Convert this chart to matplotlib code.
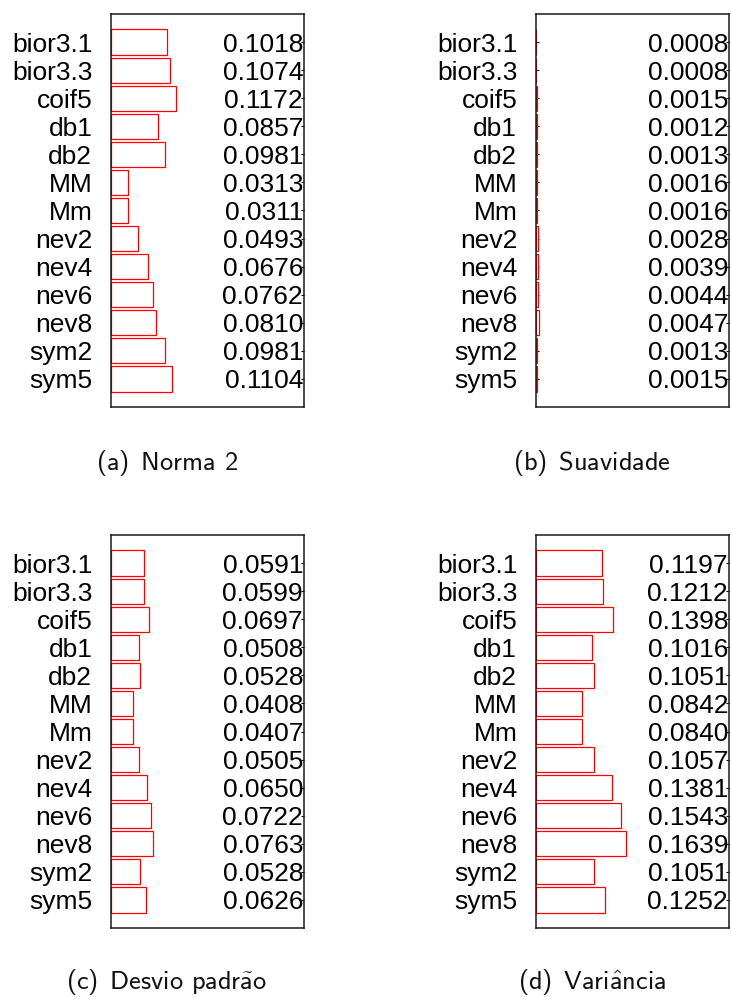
import matplotlib
matplotlib.use("Agg")
import matplotlib.pyplot as plt

plt.rcParams["mathtext.fontset"] = "cm"

# Wavelet filters compared in every panel
filters = ["bior3.1", "bior3.3", "coif5", "db1", "db2", "MM", "Mm",
           "nev2", "nev4", "nev6", "nev8", "sym2", "sym5"]

norma2 = [0.1018, 0.1074, 0.1172, 0.0857, 0.0981, 0.0313, 0.0311,
          0.0493, 0.0676, 0.0762, 0.0810, 0.0981, 0.1104]
suavidade = [0.0008, 0.0008, 0.0015, 0.0012, 0.0013, 0.0016, 0.0016,
             0.0028, 0.0039, 0.0044, 0.0047, 0.0013, 0.0015]
desvio = [0.0591, 0.0599, 0.0697, 0.0508, 0.0528, 0.0408, 0.0407,
          0.0505, 0.0650, 0.0722, 0.0763, 0.0528, 0.0626]
variancia = [0.1197, 0.1212, 0.1398, 0.1016, 0.1051, 0.0842, 0.0840,
             0.1057, 0.1381, 0.1543, 0.1639, 0.1051, 0.1252]

# sans-serif captions; the accented vowels are built with math accents
captions = [r"(a)$\enspace$Norma 2",
            r"(b)$\enspace$Suavidade",
            r"(c)$\enspace$Desvio padr$\mathsf{\tilde{a}}$o",
            r"(d)$\enspace$Vari$\mathsf{\hat{a}}$ncia"]

W, H = 731, 997
fig = plt.figure(figsize=(W / 100, H / 100), dpi=100)

# axes boxes in pixels: left, top, right, bottom
boxes = [(111, 14, 304, 407), (536, 14, 729, 407),
         (111, 535, 304, 928), (536, 535, 729, 928)]
caption_xy = [(167, 463), (592, 463), (167, 982), (592, 982)]
panels = [norma2, suavidade, desvio, variancia]

label_font = "Liberation Sans"

for vals, (l, t, r, b), cap, (cx, cy) in zip(panels, boxes, captions, caption_xy):
    ax = fig.add_axes([l / W, 1 - b / H, (r - l) / W, (b - t) / H])
    pos = list(range(1, len(filters) + 1))
    ax.barh(pos, vals, height=0.9, left=0, facecolor="white",
            edgecolor="red", linewidth=0.9, zorder=2)
    ax.set_xlim(0, 0.35)
    ax.set_ylim(len(filters) + 1, 0)
    ax.set_xticks([])
    ax.set_yticks(pos)
    ax.set_yticklabels(filters, fontfamily=label_font, fontsize=19)
    ax.tick_params(axis="y", direction="in", length=2.5, width=0.8,
                   left=True, right=True, pad=13.5, colors="black")
    for sp in ax.spines.values():
        sp.set_linewidth(1.1)
        sp.set_color("#1a1a1a")
        sp.set_zorder(3)
    for y, v in zip(pos, vals):
        ax.text(0.995, y, f"{v:.4f}", transform=ax.get_yaxis_transform(),
                ha="right", va="center_baseline", fontfamily=label_font,
                fontsize=19, color="black", zorder=4)
    fig.text(cx / W, 1 - cy / H, cap, ha="center", va="center",
             fontfamily="cmss10", fontsize=19, color="#111111")

fig.savefig("out.png", dpi=100)
